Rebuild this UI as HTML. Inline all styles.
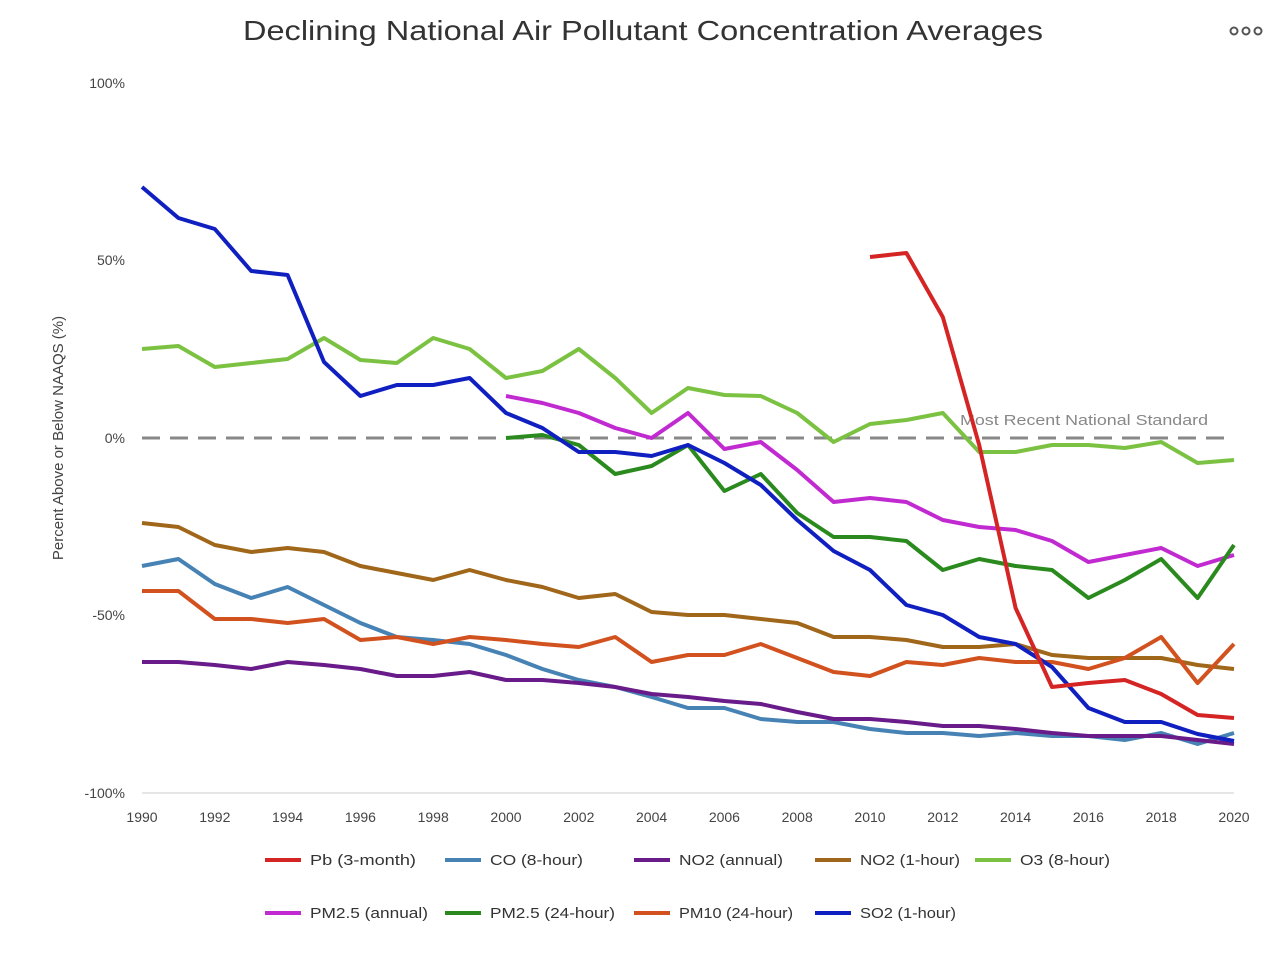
<!DOCTYPE html>
<html><head><meta charset="utf-8"><style>
body{margin:0;background:#fff;}
svg{display:block;font-family:"Liberation Sans",sans-serif;}
</style></head><body>
<svg id="c" width="1286" height="954" viewBox="0 0 1286 954" xmlns="http://www.w3.org/2000/svg">
<rect width="1286" height="954" fill="#fff"/>
<text x="243" y="40" font-size="28" fill="#333" textLength="800" lengthAdjust="spacingAndGlyphs">Declining National Air Pollutant Concentration Averages</text>
<g fill="none" stroke="#555" stroke-width="2"><circle cx="1234" cy="31" r="3.5"/><circle cx="1246" cy="31" r="3.5"/><circle cx="1258" cy="31" r="3.5"/></g>
<g font-size="14" fill="#444" text-anchor="end">
<text x="125" y="88">100%</text><text x="125" y="265">50%</text><text x="125" y="443">0%</text><text x="125" y="620">-50%</text><text x="125" y="798">-100%</text>
</g>
<text transform="translate(63,438) rotate(-90)" text-anchor="middle" font-size="15" fill="#444">Percent Above or Below NAAQS (%)</text>
<line x1="142" y1="793" x2="1234" y2="793" stroke="#ccc" stroke-width="1"/>
<g id="xt" font-size="14" fill="#444" text-anchor="middle"></g>
<line x1="142" y1="438" x2="1234" y2="438" stroke="#888" stroke-width="3" stroke-dasharray="18,10"/>
<text x="960" y="425" font-size="15" fill="#888" textLength="248" lengthAdjust="spacingAndGlyphs">Most Recent National Standard</text>
<g id="lines" fill="none" stroke-width="4" stroke-linejoin="round"></g>
<g id="leg" font-size="15" fill="#333"></g>
</svg>
<script>
var X=function(y){return 142+(y-1990)*36.4;};
var xt=document.getElementById('xt');
for(var y=1990;y<=2020;y+=2){xt.innerHTML+='<text x="'+X(y)+'" y="822">'+y+'</text>';}
var S=[
["#4682b4",1990,[566,559,584,598,587,605,623,637,640,644,655,669,680,687,697,708,708,719,722,722,729,733,733,736,733,736,736,740,733,744,733]],
["#6a1b8a",1990,[662,662,665,669,662,665,669,676,676,672,680,680,683,687,694,697,701,704,712,719,719,722,726,726,729,733,736,736,736,740,744]],
["#a0661a",1990,[523,527,545,552,548,552,566,573,580,570,580,587,598,594,612,615,615,619,623,637,637,640,647,647,644,655,658,658,658,665,669]],
["#d2521f",1990,[591,591,619,619,623,619,640,637,644,637,640,644,647,637,662,655,655,644,658,672,676,662,665,658,662,662,669,658,637,683,644]],
["#7cc242",1990,[349,346,367,363,359,338,360,363,338,349,378,371,349,378,413,388,395,396,413,442,424,420,413,452,452,445,445,448,442,463,460]],
["#c02ad0",2000,[396,403,413,428,438,413,449,442,470,502,498,502,520,527,530,541,562,555,548,566,555]],
["#2a8a1e",2000,[438,435,445,474,466,445,491,474,513,537,537,541,570,559,566,570,598,580,559,598,545]],
["#1020c0",1990,[187,218,229,271,275,362,396,385,385,378,413,428,452,452,456,445,463,485,520,551,570,605,615,637,644,667,708,722,722,734,741]],
["#d42424",2010,[257,253,317,445,608,687,683,680,694,715,718]]
];
var g=document.getElementById('lines');
S.forEach(function(s){var p=s[2].map(function(v,i){return X(s[1]+i).toFixed(1)+','+v;}).join(' ');
g.innerHTML+='<polyline points="'+p+'" stroke="'+s[0]+'"/>';});
var L=[["#d42424","Pb (3-month)",265,860,106],["#4682b4","CO (8-hour)",445,860,93],["#6a1b8a","NO2 (annual)",634,860,104],["#a0661a","NO2 (1-hour)",815,860,100],["#7cc242","O3 (8-hour)",975,860,90],
["#c02ad0","PM2.5 (annual)",265,913,118],["#2a8a1e","PM2.5 (24-hour)",445,913,125],["#d2521f","PM10 (24-hour)",634,913,114],["#1020c0","SO2 (1-hour)",815,913,96]];
var lg=document.getElementById('leg');
L.forEach(function(l){lg.innerHTML+='<line x1="'+l[2]+'" y1="'+l[3]+'" x2="'+(l[2]+36)+'" y2="'+l[3]+'" stroke="'+l[0]+'" stroke-width="4"/><text x="'+(l[2]+45)+'" y="'+(l[3]+5)+'" textLength="'+l[4]+'" lengthAdjust="spacingAndGlyphs">'+l[1]+'</text>';});
</script>
</body></html>
